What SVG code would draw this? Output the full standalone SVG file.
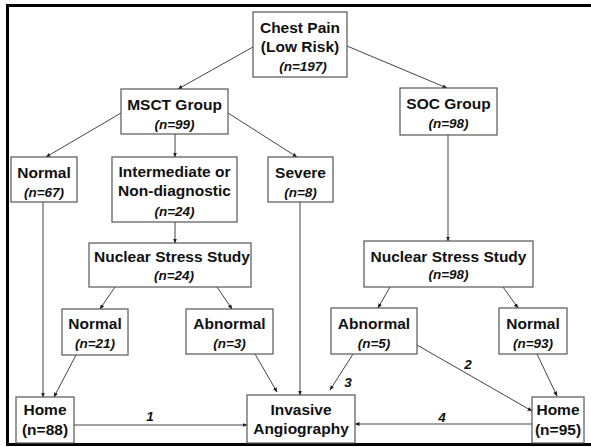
<svg xmlns="http://www.w3.org/2000/svg" width="591" height="447" viewBox="0 0 591 447">
<defs>
<marker id="ah" viewBox="0 0 10 10" refX="9" refY="5" markerWidth="5" markerHeight="5" orient="auto" markerUnits="userSpaceOnUse">
<path d="M0,1 L10,5 L0,9 z" fill="#222"/>
</marker>
<style>
.box{fill:#fff;stroke:#555;stroke-width:1.2}
.t{font-family:"Liberation Sans",Arial,sans-serif;font-weight:bold;font-size:15.5px;fill:#111;text-anchor:middle}
.n{font-family:"Liberation Sans",Arial,sans-serif;font-weight:bold;font-style:italic;font-size:13.5px;fill:#111;text-anchor:middle}
.c line{stroke:#444;stroke-width:1;marker-end:url(#ah)}
.lab{font-family:"Liberation Sans",Arial,sans-serif;font-weight:bold;font-style:italic;font-size:13.5px;fill:#111;text-anchor:middle}
</style>
</defs>
<rect x="0" y="0" width="591" height="447" fill="#fff"/>
<path d="M591,5.5 H7.5 V444.5 H591" fill="none" stroke="#000" stroke-width="3"/>
<g class="c" id="connectors">
<line x1="253" y1="47" x2="178" y2="89"/>
<line x1="347" y1="46" x2="447" y2="88"/>
<line x1="121" y1="113" x2="46" y2="157"/>
<line x1="175" y1="134" x2="175" y2="157"/>
<line x1="228" y1="113" x2="297" y2="157"/>
<line x1="448" y1="135" x2="448" y2="241"/>
<line x1="43" y1="202" x2="43" y2="397"/>
<line x1="175" y1="222" x2="175" y2="243"/>
<line x1="300" y1="202" x2="300" y2="395"/>
<line x1="115" y1="287" x2="100" y2="309"/>
<line x1="217" y1="287" x2="232" y2="309"/>
<line x1="76" y1="355" x2="54" y2="397"/>
<line x1="255" y1="354" x2="277" y2="392"/>
<line x1="74" y1="425" x2="247" y2="425"/>
<line x1="390" y1="287" x2="378" y2="308"/>
<line x1="503" y1="287" x2="518" y2="308"/>
<line x1="353" y1="354" x2="330" y2="390"/>
<line x1="417" y1="345" x2="532" y2="411"/>
<line x1="537" y1="354" x2="557" y2="396"/>
<line x1="532" y1="424" x2="355" y2="424"/>
</g>
<g id="labels">
<text class="lab" x="150" y="421">1</text>
<text class="lab" x="468" y="369">2</text>
<text class="lab" x="348" y="387">3</text>
<text class="lab" x="442" y="422">4</text>
</g>
<g id="chest"><rect class="box" x="253" y="12" width="94" height="65"/>
<text class="t" x="300" y="33">Chest Pain</text><text class="t" x="300" y="52">(Low Risk)</text><text class="n" x="303" y="71">(n=197)</text></g>
<g id="msct"><rect class="box" x="121" y="89" width="107" height="45"/>
<text class="t" x="174.5" y="110">MSCT Group</text><text class="n" x="174.5" y="129">(n=99)</text></g>
<g id="soc"><rect class="box" x="400" y="88" width="97" height="47"/>
<text class="t" x="448.5" y="109">SOC Group</text><text class="n" x="448.5" y="128">(n=98)</text></g>
<g id="normal67"><rect class="box" x="11" y="157" width="66" height="45"/>
<text class="t" x="44" y="178">Normal</text><text class="n" x="44" y="197">(n=67)</text></g>
<g id="intermediate"><rect class="box" x="112" y="157" width="125" height="65"/>
<text class="t" x="174.5" y="177">Intermediate or</text><text class="t" x="174.5" y="196">Non-diagnostic</text><text class="n" x="174.5" y="216">(n=24)</text></g>
<g id="severe"><rect class="box" x="268" y="157" width="65" height="45"/>
<text class="t" x="300.5" y="178">Severe</text><text class="n" x="300.5" y="197">(n=8)</text></g>
<g id="nss-left"><rect class="box" x="89" y="243" width="162" height="44"/>
<text class="t" x="172" y="262">Nuclear Stress Study</text><text class="n" x="174" y="280">(n=24)</text></g>
<g id="nss-right"><rect class="box" x="364" y="241" width="169" height="46"/>
<text class="t" x="448.5" y="262">Nuclear Stress Study</text><text class="n" x="448.5" y="279">(n=98)</text></g>
<g id="normal21"><rect class="box" x="62" y="309" width="66" height="46"/>
<text class="t" x="95" y="329">Normal</text><text class="n" x="95" y="348">(n=21)</text></g>
<g id="abnormal3"><rect class="box" x="186" y="309" width="87" height="45"/>
<text class="t" x="229.5" y="329">Abnormal</text><text class="n" x="229.5" y="348">(n=3)</text></g>
<g id="abnormal5"><rect class="box" x="331" y="308" width="86" height="46"/>
<text class="t" x="374" y="329">Abnormal</text><text class="n" x="374" y="348">(n=5)</text></g>
<g id="normal93"><rect class="box" x="499" y="308" width="68" height="46"/>
<text class="t" x="533" y="329">Normal</text><text class="n" x="533" y="348">(n=93)</text></g>
<g id="home88"><rect class="box" x="16" y="397" width="58" height="46"/>
<text class="t" x="45" y="415">Home</text><text class="t" x="45" y="435">(n=88)</text></g>
<g id="invasive"><rect class="box" x="247" y="395" width="108" height="48"/>
<text class="t" x="301" y="415">Invasive</text><text class="t" x="301" y="434">Angiography</text></g>
<g id="home95"><rect class="box" x="532" y="397" width="52" height="46"/>
<text class="t" x="558" y="415">Home</text><text class="t" x="558" y="435">(n=95)</text></g>
</svg>
